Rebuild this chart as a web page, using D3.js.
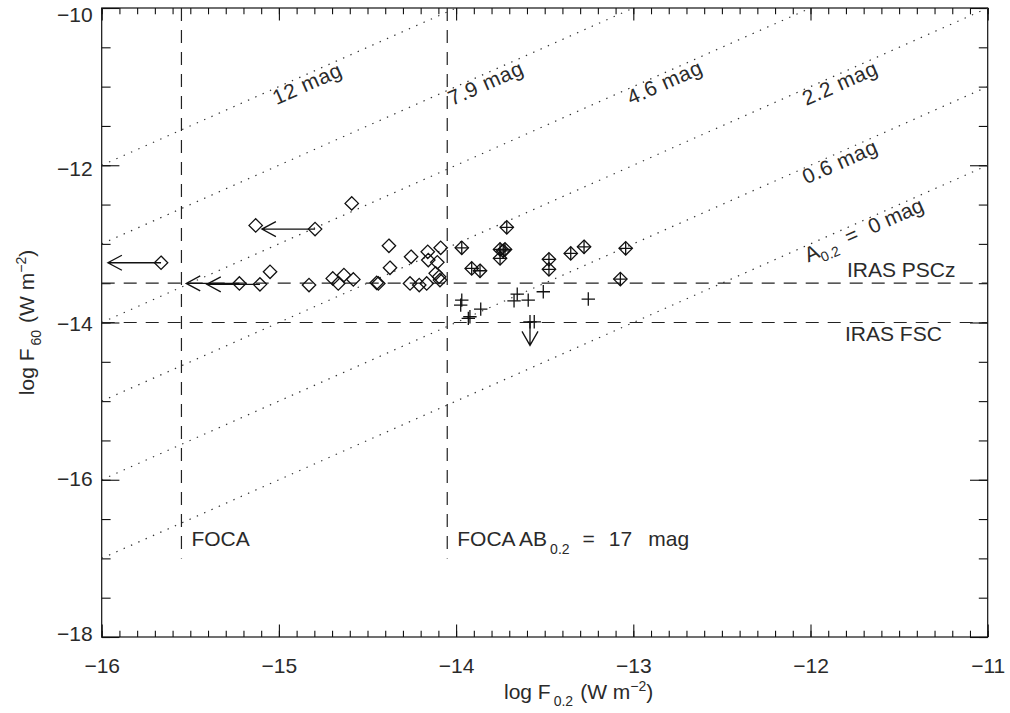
<!DOCTYPE html>
<html lang="en">
<head>
<meta charset="utf-8">
<title>log F60 vs log F0.2</title>
<style>
  body { margin: 0; background: #fff; }
  svg text { font-family: "Liberation Sans", Arial, sans-serif; font-size: 21px; fill: #2a2a2a; }
  .frame { fill: none; stroke: #111; stroke-width: 1.2px; }
  .axis path { display: none; }
  .axis line { stroke: #111; stroke-width: 1.1px; }
  .dotted { fill: none; stroke: #333; stroke-width: 1.2px; stroke-dasharray: 1.4 6.6; }
  .dashed { fill: none; stroke: #222; stroke-width: 1.2px; stroke-dasharray: 13 9; }
  .mark { fill: none; stroke: #111; stroke-width: 1.3px; }
</style>
<script src="https://cdn.jsdelivr.net/npm/d3@7"></script>
</head>
<body>
<script>
// open diamonds
var diamondX = [-15.131, -15.050, -14.830, -14.696, -14.665, -14.633, -14.589, -14.580, -14.448, -14.439,
                -14.379, -14.373, -14.260, -14.254, -14.208, -14.166, -14.160, -14.157, -14.106, -14.115,
                -14.096, -14.091, -14.087];
var diamondY = [-12.765, -13.355, -13.524, -13.439, -13.503, -13.397, -12.485, -13.452, -13.495, -13.503,
                -13.024, -13.304, -13.503, -13.164, -13.524, -13.503, -13.101, -13.206, -13.235, -13.375,
                -13.419, -13.461, -13.050];
// diamonds with upper limit in F0.2 (arrow to the left)
var limDiamondX = [-15.665, -14.796, -15.223, -15.107];
var limDiamondY = [-13.240, -12.812, -13.503, -13.515];
// diamond with plus
var bothX = [-13.968, -13.714, -13.912, -13.865, -13.752, -13.734, -13.752, -13.724, -13.476, -13.476,
             -13.353, -13.278, -13.043, -13.073];
var bothY = [-13.050, -12.790, -13.312, -13.342, -13.070, -13.088, -13.184, -13.070, -13.197, -13.324,
             -13.121, -13.037, -13.057, -13.448];
// plus only
var plusX = [-13.968, -13.974, -13.922, -13.931, -13.861, -13.655, -13.673, -13.593, -13.508, -13.254, -13.559];
var plusY = [-13.715, -13.779, -13.927, -13.948, -13.830, -13.639, -13.724, -13.715, -13.609, -13.702, -13.991];
// plus with upper limit in F60 (arrow down)
var limPlusX = [-13.583];
var limPlusY = [-13.991];
var limitLen = 0.3;

// extinction lines: log F60 = log F0.2 + k
var magK = [4, 3, 2, 1, 0, -1];
var magText = ["12 mag", "7.9 mag", "4.6 mag", "2.2 mag", "0.6 mag", "0 mag"];
var magTextX = [-15.05, -14.06, -13.05, -12.06, -12.06, -12.05];

var surveyY = [-13.5, -14];
var surveyText = ["IRAS PSCz", "IRAS FSC"];
var focaX = [-15.55, -14.05];

var xMajor = [-16, -15, -14, -13, -12, -11];
var yMajor = [-18, -16, -14, -12, -10];

var W = 1010, H = 713;
var svg = d3.select("body").append("svg").attr("width", W).attr("height", H);

var x = d3.scaleLinear().domain([-16, -11]).range([101.7, 987.7]);
var y = d3.scaleLinear().domain([-18, -10]).range([637, 8]);
var fmt = d3.format("d");

var xMinor = d3.range(-16, -10.95, 0.1).map(function(d){ return +d.toFixed(1); });
var yMinor = d3.range(-18, -9.95, 0.5);

// axes (ticks on all four sides, pointing inward)
svg.append("g").attr("class", "axis").attr("transform", "translate(0," + y(-18) + ")")
   .call(d3.axisBottom(x).tickValues(xMinor).tickSize(-6.3).tickFormat(""));
svg.append("g").attr("class", "axis xlab").attr("transform", "translate(0," + y(-18) + ")")
   .call(d3.axisBottom(x).tickValues(xMajor).tickSize(-12.6).tickFormat(fmt).tickPadding(21));
svg.append("g").attr("class", "axis").attr("transform", "translate(0," + y(-10) + ")")
   .call(d3.axisTop(x).tickValues(xMinor).tickSize(-6.3).tickFormat(""));
svg.append("g").attr("class", "axis").attr("transform", "translate(0," + y(-10) + ")")
   .call(d3.axisTop(x).tickValues(xMajor).tickSize(-12.6).tickFormat(""));
svg.append("g").attr("class", "axis").attr("transform", "translate(" + x(-16) + ",0)")
   .call(d3.axisLeft(y).tickValues(yMinor).tickSize(-8.9).tickFormat(""));
svg.append("g").attr("class", "axis ylab").attr("transform", "translate(" + x(-16) + ",0)")
   .call(d3.axisLeft(y).tickValues(yMajor).tickSize(-17.7).tickFormat(fmt).tickPadding(9));
svg.append("g").attr("class", "axis").attr("transform", "translate(" + x(-11) + ",0)")
   .call(d3.axisRight(y).tickValues(yMinor).tickSize(-8.9).tickFormat(""));
svg.append("g").attr("class", "axis").attr("transform", "translate(" + x(-11) + ",0)")
   .call(d3.axisRight(y).tickValues(yMajor).tickSize(-17.7).tickFormat(""));
svg.selectAll(".axis text").style("font-size", "21px").style("fill", "#2a2a2a")
   .style("font-family", "Liberation Sans, Arial, sans-serif");
// the y labels sit a little inside the frame at both ends
svg.selectAll(".ylab .tick text").attr("dy", null)
   .attr("y", function(d){ return 13 - 10 * (-10 - d) / 8; });

svg.append("rect").attr("class", "frame")
   .attr("x", x(-16)).attr("y", y(-10))
   .attr("width", x(-11) - x(-16)).attr("height", y(-18) - y(-10));

// dotted extinction lines
magK.forEach(function(k){
  var x0 = -16, x1 = Math.min(-11, -10 - k);
  svg.append("line").attr("class", "dotted")
     .attr("x1", x(x0)).attr("y1", y(x0 + k))
     .attr("x2", x(x1)).attr("y2", y(x1 + k));
});
var ang = Math.atan((y(-17) - y(-16)) / (x(-15) - x(-16))) * 180 / Math.PI;
magK.forEach(function(k, i){
  var t = svg.append("text")
     .attr("transform", "translate(" + x(magTextX[i]) + "," + y(magTextX[i] + k) + ") rotate(" + (-ang) + ")")
     .attr("y", 16);
  if (k === -1) {
    t.append("tspan").text("A");
    t.append("tspan").attr("dy", 6).style("font-size", "14px").text("0.2");
    t.append("tspan").attr("dy", -6).attr("dx", 11).text("=");
    t.append("tspan").attr("dx", 13).text(magText[i]);
  } else {
    t.attr("letter-spacing", 0.6).text(magText[i]);
  }
});

// survey limits
surveyY.forEach(function(v){
  svg.append("line").attr("class", "dashed")
     .attr("x1", x(-16)).attr("x2", x(-11)).attr("y1", y(v)).attr("y2", y(v));
});
svg.append("text").attr("x", 847).attr("y", y(surveyY[0]) - 6).text(surveyText[0]);
svg.append("text").attr("x", 845).attr("y", y(surveyY[1]) + 18).text(surveyText[1]);

focaX.forEach(function(v){
  svg.append("line").attr("class", "dashed")
     .attr("x1", x(v)).attr("x2", x(v)).attr("y1", y(-10)).attr("y2", y(-17));
});
svg.append("text").attr("x", x(focaX[0]) + 10).attr("y", 546).text("FOCA");
var ft = svg.append("text").attr("x", x(focaX[1]) + 10).attr("y", 546);
ft.append("tspan").text("FOCA AB");
ft.append("tspan").attr("dy", 8).attr("dx", 3).style("font-size", "14px").text("0.2");
ft.append("tspan").attr("dy", -8).attr("dx", 13).text("=");
ft.append("tspan").attr("dx", 14).text("17");
ft.append("tspan").attr("dx", 16).text("mag");

// markers
var s = 6.7;
var diamond = "M0," + (-s) + "L" + s + ",0L0," + s + "L" + (-s) + ",0Z";
var plus = "M" + (-s) + ",0H" + s + "M0," + (-s) + "V" + s;

function drawSymbols(xs, ys, path) {
  svg.append("g").selectAll("path")
     .data(xs.map(function(d, i){ return [d, ys[i]]; }))
     .enter().append("path")
     .attr("class", "mark")
     .attr("d", path)
     .attr("transform", function(d){ return "translate(" + x(d[0]) + "," + y(d[1]) + ")"; });
}
drawSymbols(diamondX, diamondY, diamond);
drawSymbols(limDiamondX, limDiamondY, diamond);
drawSymbols(bothX, bothY, diamond);
drawSymbols(bothX, bothY, plus);
drawSymbols(plusX, plusY, plus);
drawSymbols(limPlusX, limPlusY, plus);

// upper limit arrows
limDiamondX.forEach(function(d, i){
  var tx = x(d - limitLen), ty = y(limDiamondY[i]);
  svg.append("path").attr("class", "mark")
     .attr("d", "M" + x(d) + "," + ty + "H" + tx + "M" + (tx + 14) + "," + (ty - 7.5) + "L" + tx + "," + ty + "L" + (tx + 14) + "," + (ty + 7.5));
});
limPlusX.forEach(function(d, i){
  var px = x(d), ty = y(limPlusY[i] - limitLen);
  svg.append("path").attr("class", "mark")
     .attr("d", "M" + px + "," + y(limPlusY[i]) + "V" + ty + "M" + (px - 8) + "," + (ty - 14) + "L" + px + "," + ty + "L" + (px + 8) + "," + (ty - 14));
});

// axis titles
var xt = svg.append("text").attr("x", 504).attr("y", 699);
xt.append("tspan").text("log F");
xt.append("tspan").attr("dy", 7).attr("dx", 3).style("font-size", "14px").text("0.2");
xt.append("tspan").attr("dy", -7).attr("dx", 7).text("(W m");
xt.append("tspan").attr("dy", -8).style("font-size", "14px").text("−2");
xt.append("tspan").attr("dy", 8).text(")");

var yt = svg.append("text").attr("transform", "translate(34," + (y(-14)) + ") rotate(-90)")
   .attr("text-anchor", "middle");
yt.append("tspan").text("log F");
yt.append("tspan").attr("dy", 7).attr("dx", 3).style("font-size", "14px").text("60");
yt.append("tspan").attr("dy", -7).attr("dx", 7).text("(W m");
yt.append("tspan").attr("dy", -8).style("font-size", "14px").text("−2");
yt.append("tspan").attr("dy", 8).text(")");
</script>
</body>
</html>
